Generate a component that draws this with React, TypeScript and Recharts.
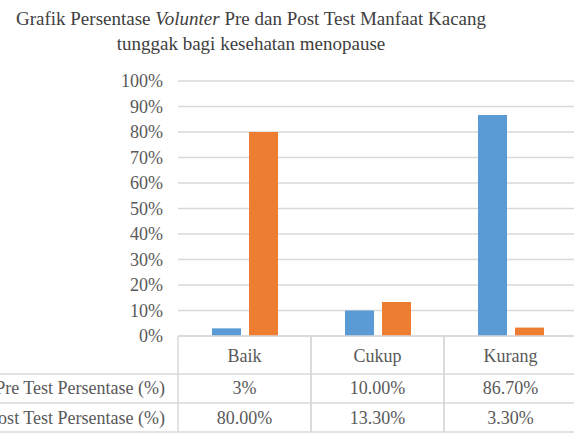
import { Bar, BarChart, CartesianGrid, XAxis, YAxis } from "recharts"

const categories = ["Baik", "Cukup", "Kurang"]
const preTest = [3, 10, 86.7]
const postTest = [80, 13.3, 3.3]
const preLabels = ["3%", "10.00%", "86.70%"]
const postLabels = ["80.00%", "13.30%", "3.30%"]
const rowNames = ["Pre Test Persentase (%)", "Post Test Persentase (%)"]
const yTicks = [0, 10, 20, 30, 40, 50, 60, 70, 80, 90, 100]

const data = categories.map((name, i) => ({ name, pre: preTest[i], post: postTest[i] }))

const font = "Liberation Serif, DejaVu Serif, serif"
const textColor = "#595959"
const lineColor = "#d9d9d9"
const chartWidth = 577
const plotLeft = 178
const band = (chartWidth - plotLeft) / categories.length

function TableTick(props: any) {
  const { x, y, payload, index } = props
  const left = x - band / 2
  const right = x + band / 2
  return (
    <g fontFamily={font} fontSize={18} fill={textColor}>
      {index === 0 && (
        <g>
          <line x1={0} x2={chartWidth} y1={y + 38} y2={y + 38} stroke={lineColor} strokeWidth={1.5} />
          <line x1={0} x2={chartWidth} y1={y + 67} y2={y + 67} stroke={lineColor} strokeWidth={1.5} />
          <line x1={0} x2={chartWidth} y1={y + 96} y2={y + 96} stroke={lineColor} strokeWidth={1.5} />
          <text x={left - 13} y={y + 52} textAnchor="end" dominantBaseline="central">{rowNames[0]}</text>
          <text x={left - 13} y={y + 82} textAnchor="end" dominantBaseline="central">{rowNames[1]}</text>
        </g>
      )}
      <line x1={left} x2={left} y1={y} y2={y + 96} stroke={lineColor} strokeWidth={1.5} />
      <line x1={right} x2={right} y1={y} y2={y + 96} stroke={lineColor} strokeWidth={1.5} />
      <text x={x} y={y + 20} textAnchor="middle" dominantBaseline="central">{payload.value}</text>
      <text x={x} y={y + 52} textAnchor="middle" dominantBaseline="central">{preLabels[index]}</text>
      <text x={x} y={y + 82} textAnchor="middle" dominantBaseline="central">{postLabels[index]}</text>
    </g>
  )
}

export default function App() {
  return (
    <div style={{ position: "absolute", left: 0, top: 0, width: 574, height: 435, overflow: "hidden", background: "#fff" }}>
      <div
        style={{
          position: "absolute",
          left: 0,
          width: 502,
          top: 6,
          textAlign: "center",
          fontFamily: font,
          fontSize: 19,
          lineHeight: "25px",
          color: "#404040",
          whiteSpace: "nowrap",
        }}
      >
        <div>Grafik Persentase <i>Volunter</i> Pre dan Post Test Manfaat Kacang</div>
        <div>tunggak bagi kesehatan menopause</div>
      </div>
      <BarChart
        width={chartWidth}
        height={435}
        data={data}
        margin={{ top: 81, right: 0, left: plotLeft - 60, bottom: 3 }}
        barGap={8}
        barSize={29}
      >
        <CartesianGrid vertical={false} stroke={lineColor} strokeWidth={1.5} />
        <XAxis
          dataKey="name"
          height={96}
          interval={0}
          tickLine={false}
          tickSize={0}
          tickMargin={0}
          axisLine={{ stroke: lineColor, strokeWidth: 1.5 }}
          tick={<TableTick />}
        />
        <YAxis
          width={60}
          domain={[0, 100]}
          ticks={yTicks}
          interval={0}
          tickFormatter={(v) => `${v}%`}
          axisLine={false}
          tickLine={false}
          tickSize={0}
          tickMargin={15}
          tick={{ fill: textColor, fontSize: 18, fontFamily: font }}
        />
        <Bar dataKey="pre" fill="#5b9bd5" isAnimationActive={false} />
        <Bar dataKey="post" fill="#ed7d31" isAnimationActive={false} />
      </BarChart>
    </div>
  )
}
